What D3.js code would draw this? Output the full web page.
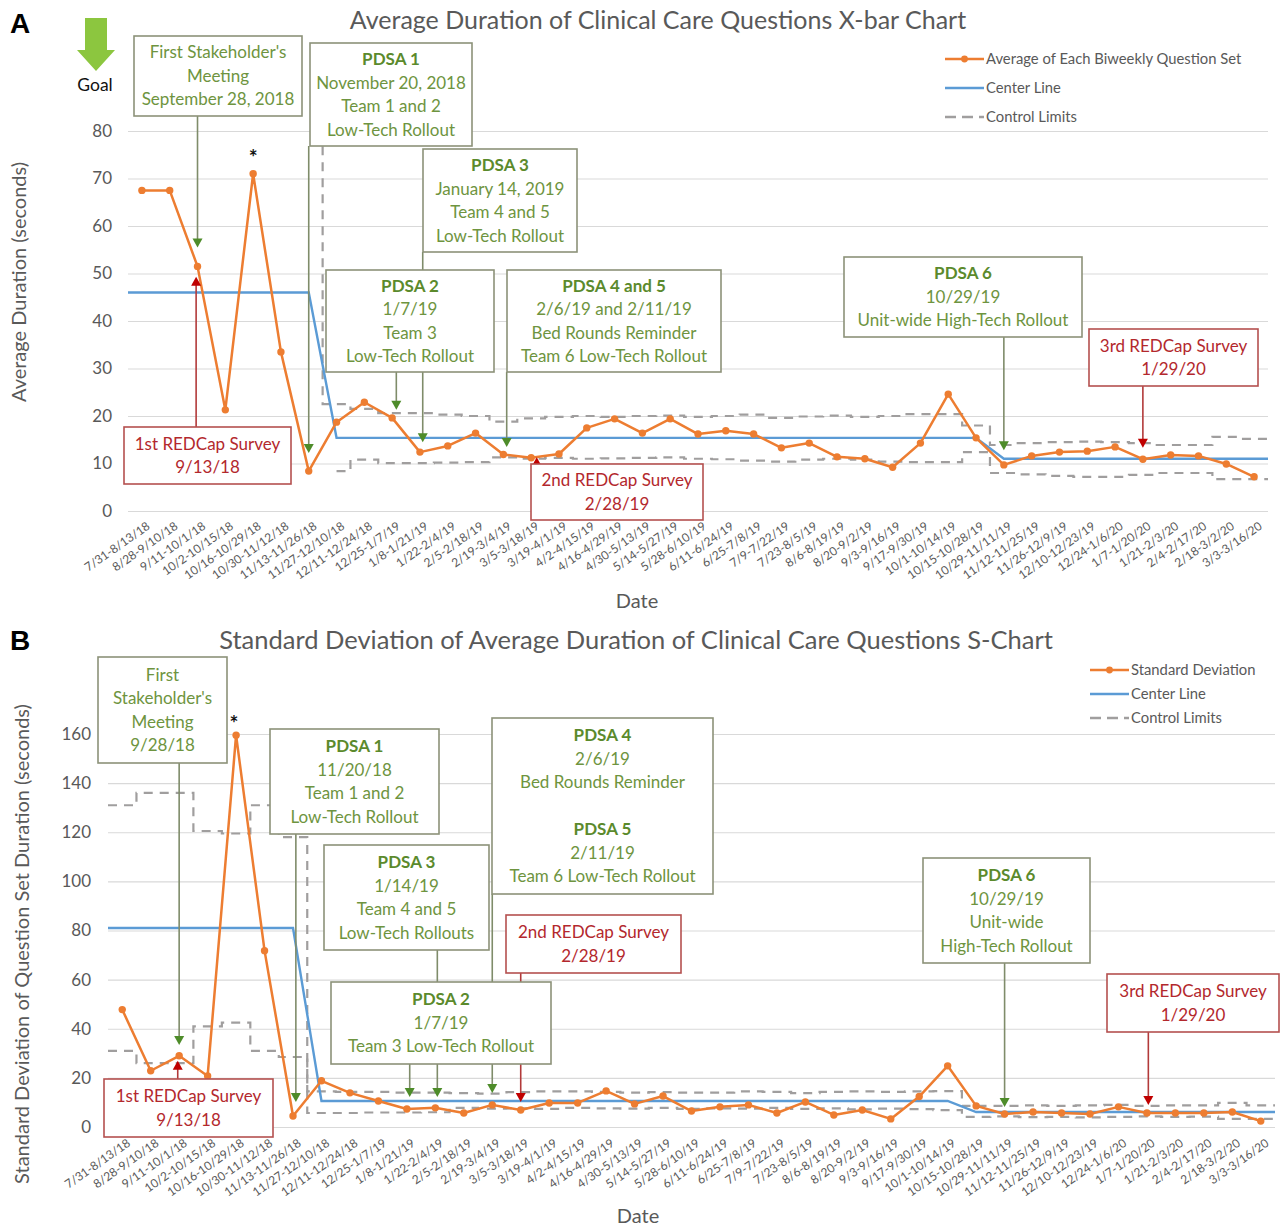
<!DOCTYPE html>
<html>
<head>
<meta charset="utf-8">
<script src="https://cdn.jsdelivr.net/npm/d3@7"></script>
<style>
  body { margin: 0; background: #fff; }
  svg text { font-family: Lato, "Open Sans", sans-serif; }
</style>
</head>
<body>
<svg id="chart" width="1283" height="1226"></svg>
<script>
// biweekly periods
const periods = ["7/31-8/13/18","8/28-9/10/18","9/11-10/1/18","10/2-10/15/18","10/16-10/29/18","10/30-11/12/18","11/13-11/26/18","11/27-12/10/18","12/11-12/24/18","12/25-1/7/19","1/8-1/21/19","1/22-2/4/19","2/5-2/18/19","2/19-3/4/19","3/5-3/18/19","3/19-4/1/19","4/2-4/15/19","4/16-4/29/19","4/30-5/13/19","5/14-5/27/19","5/28-6/10/19","6/11-6/24/19","6/25-7/8/19","7/9-7/22/19","7/23-8/5/19","8/6-8/19/19","8/20-9/2/19","9/3-9/16/19","9/17-9/30/19","10/1-10/14/19","10/15-10/28/19","10/29-11/11/19","11/12-11/25/19","11/26-12/9/19","12/10-12/23/19","12/24-1/6/20","1/7-1/20/20","1/21-2/3/20","2/4-2/17/20","2/18-3/2/20","3/3-3/16/20"];

// A: x-bar chart
const avgDuration = [67.5,67.5,51.5,21.3,71,33.5,8.4,18.7,22.9,19.6,12.4,13.7,16.4,11.9,11.2,12,17.5,19.4,16.4,19.4,16.2,16.9,16.2,13.3,14.3,11.4,11,9.2,14.3,24.6,15.4,9.7,11.6,12.4,12.6,13.5,10.9,11.8,11.6,9.9,7.2];
const avgCenter = [46,46,46,46,46,46,46,15.4,15.4,15.4,15.4,15.4,15.4,15.4,15.4,15.4,15.4,15.4,15.4,15.4,15.4,15.4,15.4,15.4,15.4,15.4,15.4,15.4,15.4,15.4,15.4,11,11,11,11,11,11,11,11,11,11];
const avgUCL = [120,120,120,120,120,120,120,22.5,21.5,20.6,20.6,20.3,20,18.8,19.5,19.8,20,19.8,20,20.1,19.8,20,20.3,19.6,19.9,20.1,19.8,20,20.4,20.4,18,13.9,14.3,14.5,14.6,14.5,14.3,13.9,13.9,15.6,15.2];
const avgLCL = [null,null,null,null,null,null,null,8.4,10.8,10.1,10.1,10.2,10.3,11.3,11,11.2,11,11.1,11.2,11.3,11,10.9,10.6,10.4,10.8,11,10.8,10.4,10.3,10.3,12.4,8,7.7,7.4,7.2,7.2,7.6,8,8,6.7,6.7];

// B: s-chart
const sdDuration = [47.8,22.9,29,20.8,159.5,71.8,4.5,18.8,13.9,10.6,7.3,7.8,5.7,9,6.9,9.8,9.8,14.7,9.4,12.6,6.5,8.2,9,5.7,10.2,4.9,6.9,3.3,12.4,24.9,8.6,5.3,6.1,5.7,5.3,8.2,5.7,5.7,5.7,6.1,2.4];
const sdCenter = [81,81,81,81,81,81,81,10.6,10.6,10.6,10.6,10.6,10.6,10.6,10.6,10.6,10.6,10.6,10.6,10.6,10.6,10.6,10.6,10.6,10.6,10.6,10.6,10.6,10.6,10.6,6.1,6.1,6.1,6.1,6.1,6.1,6.1,6.1,6.1,6.1,6.1];
const sdUCL = [131,136,136,120.5,119.5,131,118,14.5,14.3,14.3,14,14,13.8,13.6,14.2,14.5,14.5,14.3,14,14.2,14,14,14.5,14.3,13.8,14.3,14.5,14.3,14.5,14.6,8.6,8.6,8.8,8.6,8.8,9,8.6,8.8,8.8,9.8,8.8];
const sdLCL = [31,26,26,41,42.5,31,28.5,5.7,5.7,5.9,5.9,6,7.8,7.5,7.6,7.4,7.8,7.6,7.5,7.8,7.4,7.6,7.5,7.8,7.4,7.6,7.2,7.5,7.3,6.9,4.1,4.3,4,4.1,3.9,4.1,4.3,4.1,4.2,3.3,3.3];

const ORANGE = "#ed7d31", BLUE = "#5b9bd5", GREY = "#a09e9e", GRID = "#d9d9d9", TXT = "#595959";
const GREEN_TXT = "#6e9440", GREEN_BOLD = "#5b8a2c", GREEN_BOX = "#8c9279", GREEN_LINE = "#7f8c6a", GREEN_HEAD = "#4e8c2a";
const RED_TXT = "#b3282d", RED_BOX = "#b5504f", RED_LINE = "#b23a3a";

const svg = d3.select("#chart");

function drawPanel(p) {
  const g = svg.append("g");
  const x = d3.scaleBand().domain(periods).range(p.xRange);
  const y = d3.scaleLinear().domain(p.yDomain).range(p.yRange);
  const cx = (i, off = 0) => x(periods[i]) + x.bandwidth() * (0.5 + off);

  // panel letter + title
  g.append("text").attr("x", 10).attr("y", p.letterY).text(p.letter)
    .style("font-family", "'Liberation Sans', Arial, sans-serif")
    .style("font-weight", "bold").style("font-size", "28px").attr("fill", "#000");
  g.append("text").attr("x", p.titleX).attr("y", p.titleY).attr("dy", "0.35em")
    .attr("text-anchor", "middle").attr("fill", TXT).style("font-size", p.titleSize).text(p.title);

  // y axis with gridlines
  const yAxis = g.append("g").attr("transform", `translate(${p.xRange[0]},0)`)
    .call(d3.axisLeft(y).tickValues(p.ticks).tickSize(-(p.xRange[1] - p.xRange[0])).tickPadding(p.tickPad));
  yAxis.select(".domain").remove();
  yAxis.selectAll("line").attr("stroke", GRID).attr("stroke-width", 1.2);
  yAxis.selectAll("text").attr("fill", TXT).style("font-size", "17px");

  // x axis labels
  const xAxis = g.append("g").attr("transform", `translate(0,${p.yRange[0]})`)
    .call(d3.axisBottom(x).tickSize(0));
  xAxis.select(".domain").remove();
  xAxis.selectAll("text")
    .attr("x", 0).attr("y", 0).attr("dy", "0.71em")
    .attr("text-anchor", "end")
    .attr("transform", `translate(4,${p.xLabelOff}) rotate(-35)`)
    .attr("fill", TXT).style("font-size", "12px");

  g.append("text").attr("x", p.xTitleX).attr("y", p.xTitleY).attr("dy", "0.35em")
    .attr("text-anchor", "middle").attr("fill", TXT).style("font-size", "20px").text("Date");
  g.append("text").attr("transform", `translate(${p.yLabelX},${p.yLabelY}) rotate(-90)`)
    .attr("dy", "0.35em").attr("text-anchor", "middle").attr("fill", TXT)
    .style("font-size", "20px").text(p.yLabel);

  // clip for control limits
  const clipId = "clip" + p.letter;
  g.append("clipPath").attr("id", clipId).append("rect")
    .attr("x", p.xRange[0]).attr("y", p.yRange[1])
    .attr("width", p.xRange[1] - p.xRange[0]).attr("height", p.yRange[0] - p.yRange[1]);

  const extended = arr => [[p.xRange[0], arr[0]]]
    .concat(arr.map((v, i) => [cx(i), v]))
    .concat([[p.xRange[1], arr[arr.length - 1]]]);

  const stepLine = d3.line().defined(d => d[1] != null)
    .x(d => d[0]).y(d => y(d[1])).curve(d3.curveStep);
  const plainLine = d3.line().x(d => d[0]).y(d => y(d[1]));

  const limits = g.append("g").attr("clip-path", `url(#${clipId})`);
  [p.ucl, p.lcl].forEach(arr => {
    limits.append("path").attr("d", stepLine(extended(arr)))
      .attr("fill", "none").attr("stroke", GREY).attr("stroke-width", 2.2)
      .attr("stroke-dasharray", "9,7");
  });

  g.append("path").attr("d", plainLine(extended(p.center)))
    .attr("fill", "none").attr("stroke", BLUE).attr("stroke-width", 2.4);

  g.append("path").attr("d", plainLine(p.values.map((v, i) => [cx(i), v])))
    .attr("fill", "none").attr("stroke", ORANGE).attr("stroke-width", 2.5)
    .attr("stroke-linejoin", "round");
  g.append("g").selectAll("circle").data(p.values).join("circle")
    .attr("cx", (d, i) => cx(i)).attr("cy", d => y(d)).attr("r", 3.7)
    .attr("fill", ORANGE);

  // asterisk above the outlier
  g.append("text").attr("x", cx(p.star.i) + p.star.dx).attr("y", y(p.values[p.star.i]) - p.star.dy)
    .attr("text-anchor", "middle").style("font-size", "21px").style("font-weight", "bold")
    .attr("fill", "#111").text("*");

  // legend
  const lg = g.append("g").attr("transform", `translate(${p.legend.x},${p.legend.y})`);
  p.legend.names.forEach((name, k) => {
    const ly = k * p.legend.step;
    const l = lg.append("line").attr("x1", 0).attr("x2", 39).attr("y1", ly).attr("y2", ly)
      .attr("stroke-width", 2.4);
    if (k === 0) {
      l.attr("stroke", ORANGE);
      lg.append("circle").attr("cx", 19.5).attr("cy", ly).attr("r", 3.4).attr("fill", ORANGE);
    } else if (k === 1) {
      l.attr("stroke", BLUE);
    } else {
      l.attr("stroke", GREY).attr("stroke-dasharray", "11,6");
    }
    lg.append("text").attr("x", 41).attr("y", ly).attr("dy", "0.35em")
      .attr("fill", TXT).style("font-size", "14.8px").text(name);
  });

  // arrows (under the boxes)
  const ag = g.append("g");
  p.arrows.forEach(a => {
    const ax = cx(a.i, a.off || 0);
    const tip = y(a.to);
    const dir = tip > a.from ? 1 : -1;
    const red = a.c === "r";
    ag.append("line").attr("x1", ax).attr("x2", ax).attr("y1", a.from).attr("y2", tip - dir * 6)
      .attr("stroke", red ? RED_LINE : GREEN_LINE).attr("stroke-width", 1.6);
    ag.append("path")
      .attr("d", `M${ax - 5},${tip - dir * 9}L${ax + 5},${tip - dir * 9}L${ax},${tip}Z`)
      .attr("fill", red ? "#c00000" : GREEN_HEAD);
  });

  // annotation boxes
  p.boxes.forEach(b => {
    const red = b.c === "r";
    const bg = g.append("g");
    bg.append("rect").attr("x", b.x).attr("y", b.y).attr("width", b.w).attr("height", b.h)
      .attr("fill", "#fff").attr("stroke", red ? RED_BOX : GREEN_BOX).attr("stroke-width", 1.6);
    const n = b.lines.length;
    const mid = b.y + b.h / 2;
    b.lines.forEach((t, k) => {
      if (!t) return;
      const bold = /^PDSA/.test(t);
      bg.append("text").attr("x", b.x + b.w / 2).attr("y", mid + (k - (n - 1) / 2) * 23.5)
        .attr("dy", "0.35em").attr("text-anchor", "middle")
        .attr("fill", red ? RED_TXT : (bold ? GREEN_BOLD : GREEN_TXT))
        .style("font-size", "17px").style("font-weight", bold ? "bold" : "normal").text(t);
    });
  });
}

// goal arrow (panel A)
svg.append("path")
  .attr("d", "M85,18L107,18L107,50L115,50L96,71L77,50L85,50Z")
  .attr("fill", "#8cc63f");
svg.append("text").attr("x", 95).attr("y", 85).attr("dy", "0.35em").attr("text-anchor", "middle")
  .attr("fill", "#111").style("font-size", "17.5px").text("Goal");

drawPanel({
  letter: "A", letterY: 33,
  title: "Average Duration of Clinical Care Questions X-bar Chart", titleX: 658, titleY: 20, titleSize: "25px",
  xRange: [128, 1268], yDomain: [0, 80], yRange: [511, 131],
  ticks: d3.range(0, 81, 10), tickPad: 16, xLabelOff: 10,
  values: avgDuration, center: avgCenter, ucl: avgUCL, lcl: avgLCL,
  yLabel: "Average Duration (seconds)", yLabelX: 19, yLabelY: 282,
  xTitleX: 637, xTitleY: 601,
  star: { i: 4, dx: 0, dy: 9 },
  legend: { x: 945, y: 59, step: 29, names: ["Average of Each Biweekly Question Set", "Center Line", "Control Limits"] },
  arrows: [
    { i: 2, from: 116, to: 55.5 },
    { i: 6, from: 146, to: 12.2 },
    { i: 9, off: 0.15, from: 372, to: 21.3 },
    { i: 10, off: 0.1, from: 252, to: 14.5 },
    { i: 13, off: 0.12, from: 372, to: 13.5 },
    { i: 31, from: 337, to: 12.8 },
    { i: 2, off: -0.05, from: 427, to: 49.3, c: "r" },
    { i: 14, off: 0.2, from: 464, to: 11.3, c: "r" },
    { i: 36, from: 386, to: 13.3, c: "r" }
  ],
  boxes: [
    { x: 134, y: 36, w: 168, h: 80, lines: ["First Stakeholder's", "Meeting", "September 28, 2018"] },
    { x: 310, y: 43, w: 162, h: 103, lines: ["PDSA 1", "November 20, 2018", "Team 1 and 2", "Low-Tech Rollout"] },
    { x: 423, y: 149, w: 154, h: 103, lines: ["PDSA 3", "January 14, 2019", "Team 4 and 5", "Low-Tech Rollout"] },
    { x: 326, y: 270, w: 168, h: 102, lines: ["PDSA 2", "1/7/19", "Team 3", "Low-Tech Rollout"] },
    { x: 507, y: 270, w: 214, h: 102, lines: ["PDSA 4 and 5", "2/6/19 and 2/11/19", "Bed Rounds Reminder", "Team 6 Low-Tech Rollout"] },
    { x: 844, y: 257, w: 238, h: 80, lines: ["PDSA 6", "10/29/19", "Unit-wide High-Tech Rollout"] },
    { x: 124, y: 427, w: 167, h: 57, c: "r", lines: ["1st REDCap Survey", "9/13/18"] },
    { x: 531, y: 464, w: 172, h: 56, c: "r", lines: ["2nd REDCap Survey", "2/28/19"] },
    { x: 1089, y: 329, w: 169, h: 57, c: "r", lines: ["3rd REDCap Survey", "1/29/20"] }
  ]
});

drawPanel({
  letter: "B", letterY: 650,
  title: "Standard Deviation of Average Duration of Clinical Care Questions S-Chart", titleX: 636, titleY: 640, titleSize: "25.5px",
  xRange: [108, 1275], yDomain: [0, 160], yRange: [1127, 734],
  ticks: d3.range(0, 161, 20), tickPad: 17, xLabelOff: 11,
  values: sdDuration, center: sdCenter, ucl: sdUCL, lcl: sdLCL,
  yLabel: "Standard Deviation of Question Set Duration (seconds)", yLabelX: 22, yLabelY: 944,
  xTitleX: 638, xTitleY: 1216,
  star: { i: 4, dx: -2, dy: 4 },
  legend: { x: 1090, y: 670, step: 24, names: ["Standard Deviation", "Center Line", "Control Limits"] },
  arrows: [
    { i: 2, from: 763, to: 33.4 },
    { i: 6, off: 0.1, from: 834, to: 10.2 },
    { i: 11, off: 0.07, from: 950, to: 12.2 },
    { i: 10, off: 0.1, from: 1064, to: 12.2 },
    { i: 13, from: 894, to: 13.8 },
    { i: 31, from: 963, to: 8.1 },
    { i: 2, off: -0.05, from: 1079, to: 27, c: "r" },
    { i: 14, from: 973, to: 10.2, c: "r" },
    { i: 36, off: 0.05, from: 1032, to: 9, c: "r" }
  ],
  boxes: [
    { x: 98, y: 657, w: 129, h: 106, lines: ["First", "Stakeholder's", "Meeting", "9/28/18"] },
    { x: 270, y: 729, w: 169, h: 105, lines: ["PDSA 1", "11/20/18", "Team 1 and 2", "Low-Tech Rollout"] },
    { x: 324, y: 845, w: 165, h: 105, lines: ["PDSA 3", "1/14/19", "Team 4 and 5", "Low-Tech Rollouts"] },
    { x: 492, y: 718, w: 221, h: 176, lines: ["PDSA 4", "2/6/19", "Bed Rounds Reminder", "", "PDSA 5", "2/11/19", "Team 6 Low-Tech Rollout"] },
    { x: 506, y: 915, w: 175, h: 58, c: "r", lines: ["2nd REDCap Survey", "2/28/19"] },
    { x: 331, y: 982, w: 220, h: 82, lines: ["PDSA 2", "1/7/19", "Team 3 Low-Tech Rollout"] },
    { x: 923, y: 858, w: 167, h: 105, lines: ["PDSA 6", "10/29/19", "Unit-wide", "High-Tech Rollout"] },
    { x: 104, y: 1079, w: 169, h: 58, c: "r", lines: ["1st REDCap Survey", "9/13/18"] },
    { x: 1107, y: 974, w: 172, h: 58, c: "r", lines: ["3rd REDCap Survey", "1/29/20"] }
  ]
});
</script>
</body>
</html>
